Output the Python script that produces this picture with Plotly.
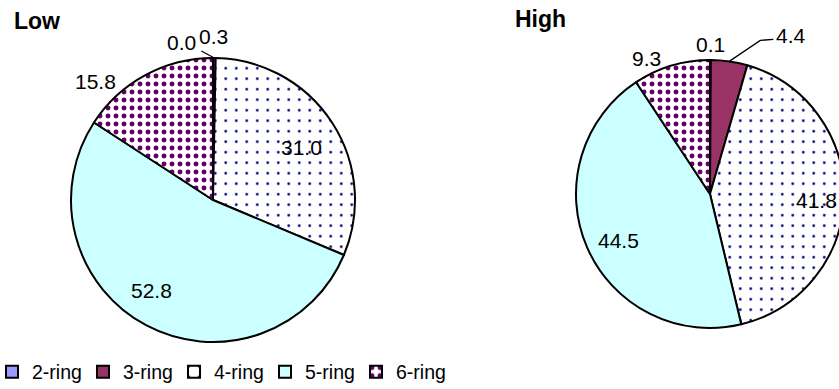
import math
import plotly.graph_objects as go

# Ring-size distribution (%) of PAHs in the two groups
rings = ["2-ring", "3-ring", "4-ring", "5-ring", "6-ring"]
low_share = [0.0, 0.3, 31.0, 52.8, 15.8]
high_share = [0.1, 4.4, 41.8, 44.5, 9.3]

# Slice styling
fill_colors = ["#9999FF", "#993366", "#FFFFFF", "#CCFFFF", "#FFFFFF"]
pattern_shapes = ["", "", ".", "", "."]
pattern_fg = ["#9999FF", "#993366", "#000080", "#CCFFFF", "#660066"]
pattern_size = [8, 8, 10.5, 8, 8]
pattern_solidity = [0.3, 0.3, 0.05, 0.3, 0.3]

# Value-label placement: radius factor along the slice bisector and pixel nudge
low_label_k = [1.0, 1.0, 0.77, 0.77, 1.0]
low_label_dx = [-32, -1, -3, -10, -50]
low_label_dy = [-15, -22, 7, -6, 6]
high_label_k = [1.0, 1.0, 0.77, 0.77, 1.0]
high_label_dx = [0, 62, 3, 3, -25]
high_label_dy = [-16, -26, 4, 5, -7]

# Leader lines (pixel offsets from the slice's rim point), keyed by slice index
low_leaders = {1: [(-13, -7)]}
high_leaders = {1: [(31, -21), (44, -22)]}

W, H = 845, 389
FONT = "Liberation Sans, Arial, sans-serif"

# Pie geometry in pixels: centre x, centre y, radius
LOW_GEO = (213, 200, 142)
HIGH_GEO = (710, 194, 134)

# Horizontal legend: fixed entry width, left edge slightly off-page
LEGEND_ENTRY = 46
LEGEND_LEFT = -8
LEGEND_WIDTH = len(rings) * (40 + LEGEND_ENTRY + 5)


def domain(geo):
    cx, cy, r = geo
    return dict(x=[(cx - r) / W, (cx + r) / W],
                y=[(H - cy - r) / H, (H - cy + r) / H])


def pie(values, name, geo):
    return go.Pie(
        labels=rings,
        values=values,
        name=name,
        sort=False,
        direction="clockwise",
        rotation=0,
        domain=domain(geo),
        marker=dict(
            colors=fill_colors,
            line=dict(color="black", width=2),
            pattern=dict(
                shape=pattern_shapes,
                fgcolor=pattern_fg,
                bgcolor=fill_colors,
                size=pattern_size,
                solidity=pattern_solidity,
                fillmode="replace",
            ),
        ),
        textinfo="none",
        hoverinfo="label+value",
    )


def to_paper(px, py):
    return px / W, 1 - py / H


def add_value_labels(fig, values, geo, ks, dxs, dys, leaders):
    cx, cy, r = geo
    total = sum(values)
    start = 0.0
    for i, v in enumerate(values):
        theta = 2 * math.pi * (start + v / 2) / total
        start += v
        s, c = math.sin(theta), math.cos(theta)
        rim_x, rim_y = cx + r * s, cy - r * c
        tx = cx + ks[i] * r * s + dxs[i]
        ty = cy - ks[i] * r * c + dys[i]
        x, y = to_paper(tx, ty)
        fig.add_annotation(
            text=f"{v:.1f}", x=x, y=y, xref="paper", yref="paper",
            xanchor="center", yanchor="middle", showarrow=False,
            font=dict(family=FONT, size=21, color="black"),
        )
        if i in leaders:
            pts = [(rim_x, rim_y)] + [(rim_x + ox, rim_y + oy) for ox, oy in leaders[i]]
            path = "M " + " L ".join(
                f"{to_paper(px, py)[0]:.5f},{to_paper(px, py)[1]:.5f}" for px, py in pts)
            fig.add_shape(type="path", path=path, xref="paper", yref="paper",
                          line=dict(color="black", width=1.3))


fig = go.Figure()
fig.add_trace(pie(low_share, "Low", LOW_GEO))
fig.add_trace(pie(high_share, "High", HIGH_GEO))

add_value_labels(fig, low_share, LOW_GEO, low_label_k, low_label_dx, low_label_dy, low_leaders)
add_value_labels(fig, high_share, HIGH_GEO, high_label_k, high_label_dx, high_label_dy, high_leaders)

for label, x, y in (("Low", 12, 20.5), ("High", 513, 19)):
    fig.add_annotation(
        text=f"<b>{label}</b>", x=x / W, y=1 - y / H,
        xref="paper", yref="paper", xanchor="left", yanchor="middle",
        showarrow=False, font=dict(family=FONT, size=23, color="black"),
    )

fig.update_layout(
    width=W, height=H,
    margin=dict(l=0, r=0, t=0, b=0, autoexpand=False),
    paper_bgcolor="white",
    plot_bgcolor="white",
    font=dict(family=FONT, size=20, color="black"),
    showlegend=True,
    legend=dict(
        orientation="h",
        x=(LEGEND_LEFT + LEGEND_WIDTH) / W, xanchor="right",
        y=(H - 372) / H, yanchor="middle",
        font=dict(family=FONT, size=19.5, color="black"),
        itemwidth=30,
        entrywidth=LEGEND_ENTRY,
        tracegroupgap=0,
        borderwidth=0,
        bgcolor="rgba(0,0,0,0)",
    ),
)

fig.write_html(
    "out.html",
    post_script="document.documentElement.style.overflow='hidden';"
                "document.body.style.overflow='hidden';document.body.style.margin='0';",
)
